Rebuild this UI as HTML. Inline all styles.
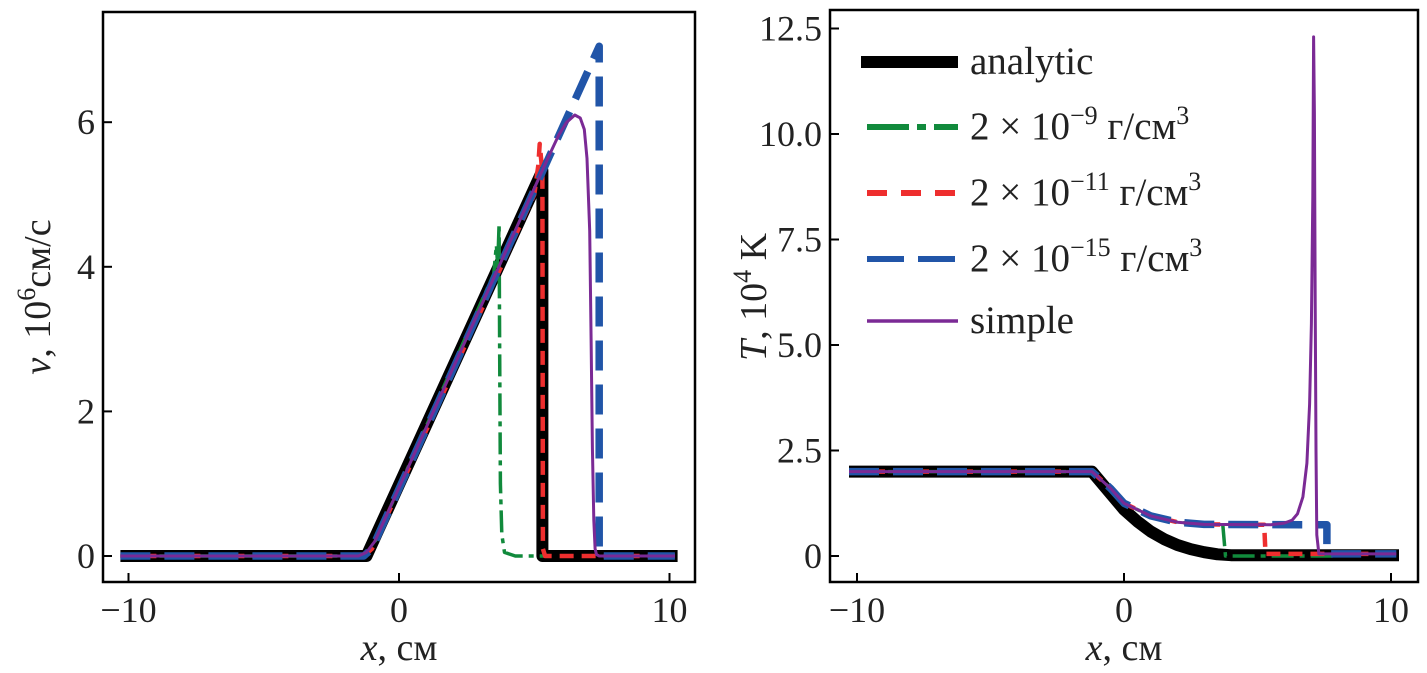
<!DOCTYPE html>
<html><head><meta charset="utf-8"><style>
html,body{margin:0;padding:0;background:#fff;}
svg{display:block;font-family:"Liberation Serif",serif;}
</style></head><body>
<svg id="c" width="1427" height="673" viewBox="0 0 1427 673"></svg>
<script>
// ---- data: velocity panel ----
const vAnalyticX=[-10.3,-1.2,5.3,5.3,10.3];
const vAnalyticY=[0,0,5.33,0,0];
const vGreenX=[-10.3,-1.3,-1.0,3.5,3.6,3.65,3.7,3.72,3.75,3.8,3.9,4.3,5.4];
const vGreenY=[0,0,0.1,3.9,4.3,4.0,4.6,3.0,1.0,0.3,0.05,0,0];
const vRedX=[-10.3,-1.3,-1.0,5.0,5.15,5.2,5.3,5.32,5.4,10.2];
const vRedY=[0,0,0.1,5.0,5.4,5.7,5.3,0.1,0,0];
const vBlueX=[-10.3,-1.3,-1.0,7.4,7.4,10.2];
const vBlueY=[0,0,0.1,7.05,0,0];
const vSimpleX=[-10.3,-1.5,-1.2,-0.9,5.5,5.9,6.2,6.5,6.7,6.85,6.95,7.05,7.1,7.15,7.2,7.25,7.3,7.4,10.2];
const vSimpleY=[0,0,0.05,0.2,5.5,5.82,6.0,6.1,6.06,5.9,5.5,4.5,3.0,1.5,0.5,0.1,0.02,0,0];
// ---- data: temperature panel ----
const tAnalyticX=[-10.3,-1.2,-0.6,0,0.5,1,1.5,2,2.5,3,3.5,4,10.3];
const tAnalyticY=[2.0,2.0,1.55,1.1,0.82,0.58,0.4,0.26,0.16,0.09,0.04,0.02,0.02];
const tGreenX=[-10.3,-1.2,-0.5,0,1,2,3,3.7,3.8,4.3,8.0];
const tGreenY=[2.0,2.0,1.6,1.25,0.95,0.8,0.75,0.74,0.0,0,0];
const tRedX=[-10.3,-1.2,-0.5,0,1,2,3,5.25,5.3,10.2];
const tRedY=[2.0,2.0,1.6,1.25,0.95,0.8,0.75,0.74,0.05,0.05];
const tBlueX=[-10.3,-1.2,-0.5,0,1,2,3,7.6,7.6,10.2];
const tBlueY=[2.0,2.0,1.6,1.25,0.95,0.8,0.75,0.74,0.05,0.05];
const tSimpleX=[-10.3,-1.2,-0.5,0,1,2,3,5.5,6.0,6.3,6.5,6.7,6.85,6.95,7.02,7.07,7.1,7.13,7.16,7.19,7.22,7.3,10.2];
const tSimpleY=[2.0,2.0,1.6,1.25,0.95,0.8,0.75,0.74,0.78,0.85,1.0,1.4,2.2,3.6,5.5,8.5,12.3,10.5,6.0,2.5,0.5,0.05,0.05];
const vTicksX=[-10,0,10], vTicksY=[0,2,4,6];
const tTicksX=[-10,0,10], tTicksY=[0,2.5,5.0,7.5,10.0,12.5];
const tTickLabels=["0","2.5","5.0","7.5","10.0","12.5"];
const legendLabels=["analytic","2 × 10<tspan dy='-15' font-size='26'>−9</tspan><tspan dy='15'> г/см</tspan><tspan dy='-15' font-size='26'>3</tspan>","2 × 10<tspan dy='-15' font-size='26'>−11</tspan><tspan dy='15'> г/см</tspan><tspan dy='-15' font-size='26'>3</tspan>","2 × 10<tspan dy='-15' font-size='26'>−15</tspan><tspan dy='15'> г/см</tspan><tspan dy='-15' font-size='26'>3</tspan>","simple"];

const svg=document.getElementById('c');
const NS='http://www.w3.org/2000/svg';
function mk(tag,attrs,parent){const e=document.createElementNS(NS,tag);for(const k in attrs)e.setAttribute(k,attrs[k]);(parent||svg).appendChild(e);return e;}
const styles=[
 {stroke:'#000',w:12,dash:''},
 {stroke:'#118a3c',w:3.5,dash:'22 6 5 6'},
 {stroke:'#ee2e2e',w:4.5,dash:'14 8'},
 {stroke:'#2155a8',w:7.5,dash:'30 14'},
 {stroke:'#7b2a95',w:3,dash:''}];
const names=['analytic','rho-2e-9','rho-2e-11','rho-2e-15','simple'];

function panel(p){
  const g=mk('g',{});
  
  
  const sx=x=>p.x0+(x-p.xa)*p.kx, sy=y=>p.y0-y*p.ky;
  p.series.forEach((s,i)=>{
    const d=s[0].map((x,j)=>(j?'L':'M')+sx(x).toFixed(1)+' '+sy(s[1][j]).toFixed(1)).join(' ');
    const st=styles[i];
    const path=mk('path',{d:d,fill:'none',stroke:st.stroke,'stroke-width':st.w,'stroke-dasharray':st.dash,'stroke-linejoin':'round'},g);
    
    
  });
  const fr=mk('rect',{x:p.L,y:p.T,width:p.R-p.L,height:p.B-p.T,fill:'none',stroke:'#000','stroke-width':2.5},g);
  
  
  p.tx.forEach(v=>{
    mk('line',{x1:sx(v),x2:sx(v),y1:p.B,y2:p.B-9,stroke:'#000','stroke-width':2},g);
    const t=mk('text',{x:sx(v),y:p.B+40,'font-size':36,'text-anchor':'middle',fill:'#222'},g);
    t.textContent=v<0?'−'+(-v):String(v);
    
    
  });
  p.ty.forEach((v,i)=>{
    mk('line',{x1:p.L,x2:p.L+9,y1:sy(v),y2:sy(v),stroke:'#000','stroke-width':2},g);
    const t=mk('text',{x:p.L-8,y:sy(v)+12,'font-size':36,'text-anchor':'end',fill:'#222'},g);
    t.textContent=p.tl?p.tl[i]:String(v);
    
    
  });
  return g;
}
panel({name:'velocity-panel',L:103,R:695,T:12,B:582,x0:399,xa:0,kx:27.05,y0:556,ky:72.3,
  tx:vTicksX,ty:vTicksY,
  series:[[vAnalyticX,vAnalyticY],[vGreenX,vGreenY],[vRedX,vRedY],[vBlueX,vBlueY],[vSimpleX,vSimpleY]]});
panel({name:'temperature-panel',L:830,R:1418,T:10,B:582,x0:1124,xa:0,kx:26.7,y0:556,ky:42.2,
  tx:tTicksX,ty:tTicksY,tl:tTickLabels,
  series:[[tAnalyticX,tAnalyticY],[tGreenX,tGreenY],[tRedX,tRedY],[tBlueX,tBlueY],[tSimpleX,tSimpleY]]});

// legend
const lg=mk('g',{});


const rowsY=[62,127,193,259,321];
legendLabels.forEach((lab,i)=>{
  const st=styles[i];
  const ln=mk('line',{x1:i==0?861:867,x2:958,y1:rowsY[i],y2:rowsY[i],stroke:st.stroke,'stroke-width':i==0?12:(i==4?3.5:6),'stroke-dasharray':i==1?'42 8 9 8':(i==2?'20 14':(i==3?'37 14':''))},lg);
  
  
  const t=mk('text',{x:970,y:rowsY[i]+12,'font-size':39,fill:'#222'},lg);
  t.innerHTML=lab;
  
  
});
// axis titles
function title(html,x,y,rot,name){
  const t=mk('text',{x:x,y:y,'font-size':38,'text-anchor':'middle',fill:'#222',transform:rot?`rotate(-90 ${x} ${y})`:''});
  t.innerHTML=html;
  
  
}
title("<tspan font-style='italic'>x</tspan>, см",399,660,false,'x-axis-title-left');
title("<tspan font-style='italic'>x</tspan>, см",1124,660,false,'x-axis-title-right');
title("<tspan font-style='italic'>v</tspan>, 10<tspan dy='-15' font-size='26'>6</tspan><tspan dy='15'>см/с</tspan>",50,297,true,'y-axis-title-velocity');
title("<tspan font-style='italic'>T</tspan>, 10<tspan dy='-15' font-size='26'>4</tspan><tspan dy='15'> K</tspan>",766,297,true,'y-axis-title-temperature');
</script>
</body></html>
